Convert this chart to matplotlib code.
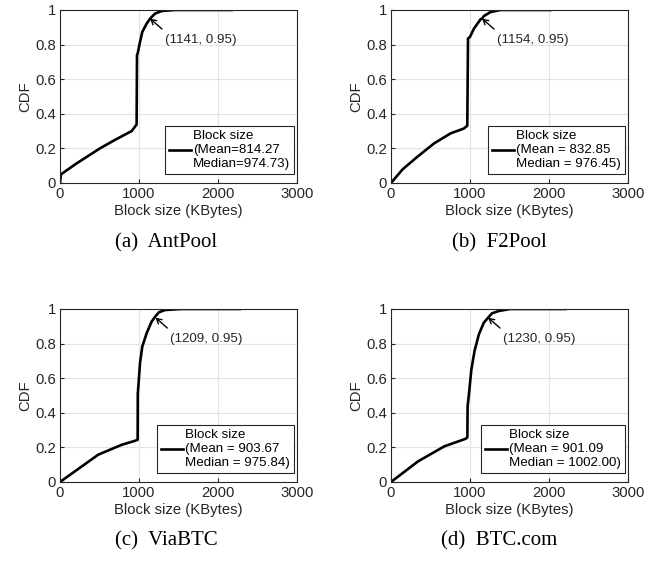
import numpy as np
import matplotlib.pyplot as plt

plt.rcParams['font.family'] = ['Liberation Sans', 'DejaVu Sans']

# CDF curves: block size (KBytes) -> CDF
ant_x = [0, 13, 200, 506, 700, 907, 949, 970, 975, 983, 1013, 1042, 1097, 1141, 1203, 1287, 1456, 1800, 2173]
ant_y = [0, 0.05, 0.11, 0.20, 0.25, 0.30, 0.325, 0.338, 0.738, 0.748, 0.815, 0.873, 0.921, 0.95, 0.979, 0.994, 1.0, 1.0, 1.0]

f2_x = [0, 150, 336, 546, 756, 924, 966, 975, 1000, 1050, 1134, 1154, 1176, 1260, 1387, 1700, 2017]
f2_y = [0, 0.08, 0.152, 0.229, 0.287, 0.315, 0.331, 0.835, 0.844, 0.892, 0.946, 0.95, 0.965, 0.988, 1.0, 1.0, 1.0]

via_x = [0, 190, 485, 781, 949, 983, 985, 992, 1013, 1042, 1097, 1160, 1209, 1253, 1329, 1540, 1900, 2278]
via_y = [0, 0.062, 0.158, 0.215, 0.238, 0.244, 0.513, 0.552, 0.687, 0.783, 0.86, 0.927, 0.958, 0.981, 0.994, 1.0, 1.0, 1.0]

btc_x = [0, 342, 675, 946, 967, 970, 988, 1017, 1058, 1113, 1175, 1230, 1279, 1362, 1508, 1900, 2207]
btc_y = [0, 0.119, 0.206, 0.25, 0.258, 0.437, 0.513, 0.648, 0.758, 0.854, 0.921, 0.95, 0.975, 0.988, 1.0, 1.0, 1.0]

curves = [(ant_x, ant_y), (f2_x, f2_y), (via_x, via_y), (btc_x, btc_y)]
legend_labels = ['Block size\n(Mean=814.27\nMedian=974.73)',
                 'Block size\n(Mean = 832.85\nMedian = 976.45)',
                 'Block size\n(Mean = 903.67\nMedian = 975.84)',
                 'Block size\n(Mean = 901.09\nMedian = 1002.00)']
p95 = [(1141, 0.95), (1154, 0.95), (1209, 0.95), (1230, 0.95)]
captions = ['(a)  AntPool', '(b)  F2Pool', '(c)  ViaBTC', '(d)  BTC.com']

fig = plt.figure(figsize=(6.62, 5.70), dpi=100)

lefts = [0.0906, 0.5906, 0.0906, 0.5906]
bottoms = [0.679, 0.679, 0.1544, 0.1544]
cap_x = [0.251, 0.754, 0.251, 0.754]
cap_y = [0.574, 0.574, 0.051, 0.051]

for i in range(4):
    ax = fig.add_axes([lefts[i], bottoms[i], 0.358, 0.3035])
    cx, cy = curves[i]
    ax.plot(cx, cy, color='black', lw=1.9, label=legend_labels[i])
    ax.set_xlim(0, 3000)
    ax.set_ylim(0, 1)
    ax.set_xticks([0, 1000, 2000, 3000])
    ax.set_yticks([0, 0.2, 0.4, 0.6, 0.8, 1])
    ax.set_yticklabels(['0', '0.2', '0.4', '0.6', '0.8', '1'])
    ax.tick_params(direction='in', length=3, labelsize=10.7, colors='#262626', pad=3)
    ax.grid(True, color='#e3e3e3', lw=0.8)
    ax.set_axisbelow(True)
    for s in ax.spines.values():
        s.set_color('#262626')
        s.set_linewidth(0.8)
    ax.set_xlabel('Block size (KBytes)', fontsize=10.7, color='#262626', labelpad=2)
    ax.set_ylabel('CDF', fontsize=10.7, color='#262626', labelpad=2)

    px, py = p95[i]
    ax.annotate('', xy=(px, py), xytext=(px + 150, py - 0.06),
                arrowprops=dict(arrowstyle='->,head_length=0.35,head_width=0.2',
                                color='black', lw=1.0, shrinkA=0, shrinkB=0))
    ax.text(px + 190, py - 0.125, '(%d, %.2f)' % (px, py), fontsize=9.6,
            va='center', ha='left', color='#262626')

    leg = ax.legend(loc='lower right', bbox_to_anchor=(0.987, 0.054), borderaxespad=0,
                    fontsize=9.6, fancybox=False, framealpha=1, edgecolor='#262626',
                    handlelength=1.65, handletextpad=0.15, borderpad=0.3)
    leg.get_frame().set_linewidth(0.8)

    fig.text(cap_x[i], cap_y[i], captions[i], family=['Liberation Serif', 'DejaVu Serif'],
             fontsize=15, ha='center', va='center')

fig.savefig('out.png', dpi=100)
